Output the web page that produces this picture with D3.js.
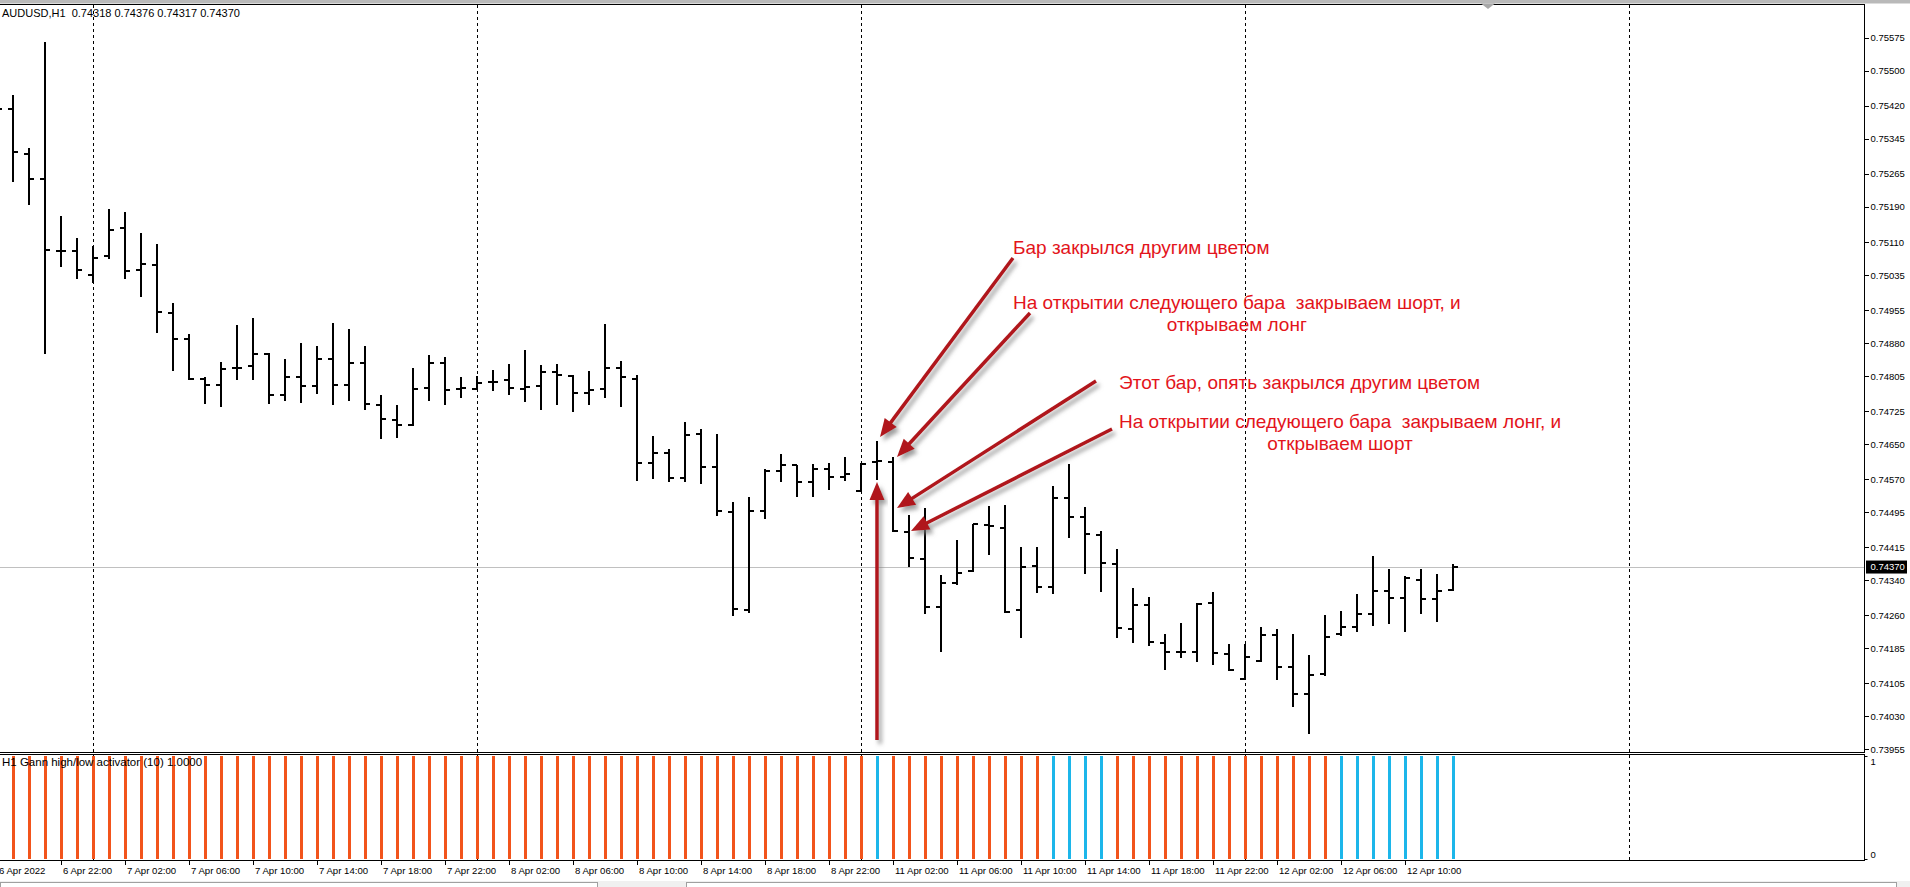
<!DOCTYPE html>
<html>
<head>
<meta charset="utf-8">
<script src="https://cdn.jsdelivr.net/npm/d3@7/dist/d3.min.js"></script>
<style>
body{margin:0;background:#fff;overflow:hidden;}
text{font-family:"Liberation Sans",Arial,sans-serif;white-space:pre;}
</style>
</head>
<body>
<div id="canvas"></div>
<script>
// AUDUSD H1 bars + Gann high/low activator

var width = 1910;
var height = 887;

var firstBar = -1;   // first bar is partly off the left edge

var opens = [0.75440,0.75414,0.75311,0.75254,0.75090,0.75089,0.75036,0.75078,0.75143,0.75046,
	0.75058,0.74949,0.74889,0.74797,0.74785,0.74824,0.74828,0.74856,0.74762,0.74803,
	0.74782,0.74843,0.74785,0.74834,0.74740,0.74704,0.74694,0.74778,0.74834,0.74776,
	0.74776,0.74792,0.74795,0.74776,0.74782,0.74813,0.74804,0.74766,0.74776,0.74823,
	0.74797,0.74606,0.74630,0.74572,0.74673,0.74598,0.74495,0.74272,0.74498,0.74589,
	0.74602,0.74563,0.74594,0.74575,0.74544,0.74609,0.74609,0.74449,0.74389,0.74278,
	0.74333,0.74361,0.74466,0.74460,0.74272,0.74373,0.74325,0.74528,0.74484,0.74444,
	0.74378,0.74229,0.74284,0.74198,0.74177,0.74177,0.74287,0.74172,0.74116,0.74156,
	0.74216,0.74142,0.74082,0.74126,0.74218,0.74234,0.74264,0.74316,0.74300,0.74341,
	0.74298,0.74318];
var highs = [0.75470,0.75444,0.75324,0.75565,0.75169,0.75119,0.75101,0.75185,0.75178,0.75131,
	0.75106,0.74971,0.74900,0.74803,0.74836,0.74921,0.74936,0.74857,0.74844,0.74879,
	0.74873,0.74925,0.74911,0.74873,0.74761,0.74738,0.74823,0.74853,0.74848,0.74803,
	0.74804,0.74818,0.74832,0.74864,0.74829,0.74832,0.74807,0.74816,0.74923,0.74838,
	0.74807,0.74668,0.74638,0.74700,0.74685,0.74672,0.74517,0.74529,0.74594,0.74628,
	0.74602,0.74604,0.74606,0.74620,0.74608,0.74657,0.74620,0.74489,0.74505,0.74351,
	0.74432,0.74467,0.74509,0.74511,0.74415,0.74415,0.74555,0.74605,0.74506,0.74452,
	0.74411,0.74322,0.74302,0.74218,0.74242,0.74287,0.74313,0.74195,0.74194,0.74233,
	0.74228,0.74217,0.74170,0.74260,0.74270,0.74309,0.74395,0.74366,0.74349,0.74366,
	0.74353,0.74376];
var lows = [0.75400,0.75250,0.75197,0.74857,0.75056,0.75028,0.75018,0.75074,0.75028,0.74988,
	0.74906,0.74819,0.74798,0.74744,0.74737,0.74797,0.74797,0.74744,0.74750,0.74746,
	0.74767,0.74741,0.74750,0.74729,0.74663,0.74666,0.74694,0.74750,0.74741,0.74758,
	0.74775,0.74772,0.74765,0.74747,0.74729,0.74741,0.74725,0.74741,0.74757,0.74736,
	0.74568,0.74572,0.74567,0.74567,0.74562,0.74489,0.74260,0.74268,0.74481,0.74565,
	0.74531,0.74531,0.74547,0.74568,0.74542,0.74570,0.74453,0.74373,0.74265,0.74178,
	0.74331,0.74361,0.74400,0.74268,0.74210,0.74314,0.74312,0.74439,0.74356,0.74316,
	0.74210,0.74200,0.74192,0.74137,0.74166,0.74155,0.74149,0.74136,0.74116,0.74156,
	0.74114,0.74054,0.73993,0.74124,0.74215,0.74225,0.74238,0.74243,0.74225,0.74266,
	0.74246,0.74317];
var closes = [0.75414,0.75315,0.75254,0.75092,0.75090,0.75046,0.75074,0.75138,0.75044,0.75060,
	0.74950,0.74889,0.74799,0.74785,0.74822,0.74824,0.74854,0.74762,0.74803,0.74782,
	0.74844,0.74785,0.74834,0.74741,0.74706,0.74694,0.74776,0.74834,0.74774,0.74778,
	0.74788,0.74792,0.74778,0.74780,0.74813,0.74807,0.74767,0.74774,0.74823,0.74802,
	0.74607,0.74630,0.74572,0.74671,0.74598,0.74497,0.74274,0.74497,0.74589,0.74602,
	0.74563,0.74594,0.74575,0.74581,0.74604,0.74611,0.74451,0.74391,0.74278,0.74333,
	0.74357,0.74467,0.74463,0.74268,0.74369,0.74325,0.74528,0.74484,0.74445,0.74379,
	0.74231,0.74284,0.74199,0.74177,0.74177,0.74285,0.74174,0.74136,0.74166,0.74216,
	0.74143,0.74082,0.74125,0.74211,0.74234,0.74262,0.74316,0.74299,0.74344,0.74298,
	0.74316,0.74370];

// gann activator state per bar: 0 = short (orange), 1 = long (blue)
var trend = [0,0,0,0,0,0,0,0,0,0,
	0,0,0,0,0,0,0,0,0,0,
	0,0,0,0,0,0,0,0,0,0,
	0,0,0,0,0,0,0,0,0,0,
	0,0,0,0,0,0,0,0,0,0,
	0,0,0,0,0,1,0,0,0,0,
	0,0,0,0,0,0,1,1,1,1,
	0,0,0,0,0,0,0,0,0,0,
	0,0,0,0,1,1,1,1,1,1,
	1,1];
var gannValue = 1;

var priceTicks = [0.75575,0.75500,0.75420,0.75345,0.75265,0.75190,0.75110,0.75035,0.74955,0.74880,
	0.74805,0.74725,0.74650,0.74570,0.74495,0.74415,0.74340,0.74260,0.74185,0.74105,0.74030,0.73955];
var currentPrice = 0.74370;

var timeLabels = ["6 Apr 2022","6 Apr 22:00","7 Apr 02:00","7 Apr 06:00","7 Apr 10:00","7 Apr 14:00",
	"7 Apr 18:00","7 Apr 22:00","8 Apr 02:00","8 Apr 06:00","8 Apr 10:00","8 Apr 14:00","8 Apr 18:00",
	"8 Apr 22:00","11 Apr 02:00","11 Apr 06:00","11 Apr 10:00","11 Apr 14:00","11 Apr 18:00",
	"11 Apr 22:00","12 Apr 02:00","12 Apr 06:00","12 Apr 10:00"];
var timeLabelBars = [-1,3,7,11,15,19,23,27,31,35,39,43,47,51,55,59,63,67,71,75,79,83,87];
var gridBars = [5,29,53,77,101];   // day separators

var header = "AUDUSD,H1  0.74318 0.74376 0.74317 0.74370";
var indName = "H1 Gann high/low activator (10) 1.0000";
var note1 = ["Бар закрылся другим цветом"];
var note2 = ["На открытии следующего бара  закрываем шорт, и", "открываем лонг"];
var note3 = ["Этот бар, опять закрылся другим цветом"];
var note4 = ["На открытии следующего бара  закрываем лонг, и", "открываем шорт"];

var plotRight = 1864.5;
var mainTop = 4.5, mainBottom = 752.5;
var indTop = 754.5, indBottom = 860.5;

var x = d3.scaleLinear().domain([0, 1]).range([13, 29]);
var y = d3.scaleLinear().domain([0.73955, 0.75575]).range([749.3, 37.8]);
var yi = d3.scaleLinear().domain([0, 1]).range([859, 756]);

var bars = d3.range(opens.length).map(function(k){
	return {i: k + firstBar, o: opens[k], h: highs[k], l: lows[k], c: closes[k], up: trend[k]};
});

var svg = d3.select("#canvas").append("svg")
	.attr("width", width)
	.attr("height", height)
	.style("display", "block")
	.style("background", "#fff");

var defs = svg.append("defs");
defs.append("clipPath").attr("id", "clipMain")
	.append("rect").attr("x", 0).attr("y", mainTop).attr("width", plotRight).attr("height", mainBottom - mainTop);
defs.append("clipPath").attr("id", "clipInd")
	.append("rect").attr("x", 0).attr("y", indTop).attr("width", plotRight).attr("height", indBottom - indTop);
var shadow = defs.append("filter").attr("id", "shadow")
	.attr("x", "-20%").attr("y", "-20%").attr("width", "140%").attr("height", "140%");
shadow.append("feDropShadow").attr("dx", 3).attr("dy", 4).attr("stdDeviation", 2)
	.attr("flood-color", "#777").attr("flood-opacity", 0.7);

// window chrome
svg.append("rect").attr("x", 0).attr("y", 0).attr("width", width).attr("height", 3.5).style("fill", "#b9b9b9");
svg.append("rect").attr("x", 0).attr("y", 881).attr("width", width).attr("height", 6).style("fill", "#f0f0f0");
svg.append("rect").attr("x", 0.5).attr("y", 882.5).attr("width", 597).attr("height", 8)
	.style("fill", "#fff").style("stroke", "#a0a0a0");
svg.append("rect").attr("x", 686.5).attr("y", 882.5).attr("width", 1210).attr("height", 8)
	.style("fill", "#fff").style("stroke", "#a0a0a0");

// grid
var grid = svg.append("g").style("shape-rendering", "crispEdges");
gridBars.forEach(function(b){
	grid.append("line")
		.attr("x1", Math.round(x(b)) + 0.5).attr("x2", Math.round(x(b)) + 0.5)
		.attr("y1", mainTop).attr("y2", mainBottom)
		.style("stroke", "#000").style("stroke-dasharray", "3,3");
	grid.append("line")
		.attr("x1", Math.round(x(b)) + 0.5).attr("x2", Math.round(x(b)) + 0.5)
		.attr("y1", indTop).attr("y2", indBottom)
		.style("stroke", "#000").style("stroke-dasharray", "3,3");
});

// current price line
svg.append("line")
	.attr("x1", 0).attr("x2", plotRight)
	.attr("y1", Math.round(y(currentPrice)) + 0.5).attr("y2", Math.round(y(currentPrice)) + 0.5)
	.style("stroke", "#c0c0c0").style("shape-rendering", "crispEdges");

// OHLC bars
var gBars = svg.append("g").attr("clip-path", "url(#clipMain)").style("shape-rendering", "crispEdges");
var bar = gBars.selectAll("g.bar").data(bars).enter().append("g").attr("class", "bar");
bar.append("rect")
	.attr("x", function(d){return x(d.i) - 1;})
	.attr("y", function(d){return Math.round(y(d.h));})
	.attr("width", 2)
	.attr("height", function(d){return Math.max(2, Math.round(y(d.l)) - Math.round(y(d.h)) + 1);})
	.style("fill", "#000");
bar.append("rect")
	.attr("x", function(d){return x(d.i) - 5;})
	.attr("y", function(d){return Math.round(y(d.o)) - 1;})
	.attr("width", 5).attr("height", 2)
	.style("fill", "#000");
bar.append("rect")
	.attr("x", function(d){return x(d.i);})
	.attr("y", function(d){return Math.round(y(d.c)) - 1;})
	.attr("width", 5).attr("height", 2)
	.style("fill", "#000");

// indicator histogram
var gInd = svg.append("g").attr("clip-path", "url(#clipInd)").style("shape-rendering", "crispEdges");
gInd.selectAll("rect").data(bars).enter().append("rect")
	.attr("x", function(d){return x(d.i) - 1;})
	.attr("y", yi(gannValue))
	.attr("width", 3)
	.attr("height", yi(0) - yi(gannValue))
	.style("fill", function(d){return d.up ? "#1cb6ea" : "#f2541b";});

// frames
svg.append("line").attr("x1", 0).attr("x2", plotRight).attr("y1", mainTop).attr("y2", mainTop)
	.style("stroke", "#000").style("shape-rendering", "crispEdges");
svg.append("rect").attr("x", -1).attr("y", mainTop).attr("width", plotRight + 1).attr("height", mainBottom - mainTop)
	.style("fill", "none").style("stroke", "#000").style("shape-rendering", "crispEdges");
svg.append("rect").attr("x", -1).attr("y", indTop).attr("width", plotRight + 1).attr("height", indBottom - indTop)
	.style("fill", "none").style("stroke", "#000").style("shape-rendering", "crispEdges");

// price axis
var axisY = svg.append("g").attr("transform", "translate(" + plotRight + ",0)")
	.call(d3.axisRight(y).tickValues(priceTicks).tickSize(4).tickPadding(2).tickFormat(d3.format(".5f")));
axisY.select(".domain").remove();
axisY.selectAll("text").style("font-size", "9.5px").style("fill", "#000").style("font-family", "Liberation Sans, Arial, sans-serif");
axisY.selectAll("line").style("stroke", "#000").style("shape-rendering", "crispEdges");

var cp = svg.append("g");
cp.append("rect").attr("x", plotRight + 1.5).attr("y", y(currentPrice) - 6.5).attr("width", 41).attr("height", 13).style("fill", "#000");
cp.append("text").attr("x", plotRight + 6).attr("y", y(currentPrice)).attr("dy", "0.35em")
	.style("font-size", "9.5px").style("fill", "#fff").text(d3.format(".5f")(currentPrice));

// indicator axis
var axisI = svg.append("g").attr("transform", "translate(" + plotRight + ",0)")
	.call(d3.axisRight(yi).tickValues([0, 1]).tickSize(3).tickPadding(3).tickFormat(d3.format("d")));
axisI.select(".domain").remove();
axisI.selectAll("line").style("stroke", "#000");
axisI.selectAll("text").style("font-size", "9.5px").style("fill", "#000").style("font-family", "Liberation Sans, Arial, sans-serif")
	.attr("dy", function(d){return d === 1 ? "0.9em" : "-0.2em";});

// time axis
var gTime = svg.append("g").style("shape-rendering", "crispEdges");
gTime.selectAll("line").data(timeLabelBars).enter().append("line")
	.attr("x1", function(b){return x(b) + 0.5;}).attr("x2", function(b){return x(b) + 0.5;})
	.attr("y1", indBottom).attr("y2", indBottom + 4)
	.style("stroke", "#000");
gTime.selectAll("text").data(timeLabels).enter().append("text")
	.attr("x", function(t, k){return x(timeLabelBars[k]) + 2;})
	.attr("y", 871).attr("dy", "0.35em")
	.style("font-size", "9.6px").style("fill", "#000")
	.text(function(t){return t;});

// captions
svg.append("text").attr("x", 2).attr("y", 13).attr("dy", "0.35em")
	.style("font-size", "11px").style("fill", "#000").text(header);
svg.append("text").attr("x", 2).attr("y", 762).attr("dy", "0.35em")
	.style("font-size", "11.5px").style("fill", "#000").text(indName);

// chart shift marker
svg.append("path").attr("d", "M1481,3.5 L1495,3.5 L1488,9 Z").style("fill", "#a8a8a8");

// annotations
var red = "#e3141b";
var arrowRed = "#b0161a";
var gNotes = svg.append("g");

function arrow(x1, y1, x2, y2){
	var dx = x2 - x1, dy = y2 - y1;
	var len = Math.sqrt(dx*dx + dy*dy);
	var ux = dx/len, uy = dy/len;
	var head = 18, half = 7.5;
	var bx = x2 - ux*head, by = y2 - uy*head;
	var g = gNotes.append("g").attr("filter", "url(#shadow)");
	g.append("line").attr("x1", x1).attr("y1", y1).attr("x2", bx + ux*2).attr("y2", by + uy*2)
		.style("stroke", arrowRed).style("stroke-width", 3.5);
	g.append("path")
		.attr("d", "M" + x2 + "," + y2 + " L" + (bx - uy*half) + "," + (by + ux*half) + " L" + (bx + uy*half) + "," + (by - ux*half) + " Z")
		.style("fill", arrowRed);
}

function note(lines, x0, y0){
	var t = gNotes.append("text").attr("x", x0).attr("y", y0).attr("dy", "0.35em")
		.style("font-size", "19px").style("fill", red).text(lines[0]);
	if(lines.length > 1){
		var w = t.node().getComputedTextLength();
		gNotes.append("text").attr("x", x0 + w/2).attr("y", y0 + 22.5).attr("dy", "0.35em")
			.attr("text-anchor", "middle")
			.style("font-size", "19px").style("fill", red).text(lines[1]);
	}
}

arrow(1013, 258, 880, 437);
arrow(1030, 313, 897, 457);
arrow(1096, 381, 897, 508);
arrow(1112, 429, 911, 531);
arrow(x(54), 740, x(54), 482);

note(note1, 1013, 247);
note(note2, 1013, 302);
note(note3, 1119, 382);
note(note4, 1119, 421);
</script>
</body>
</html>
